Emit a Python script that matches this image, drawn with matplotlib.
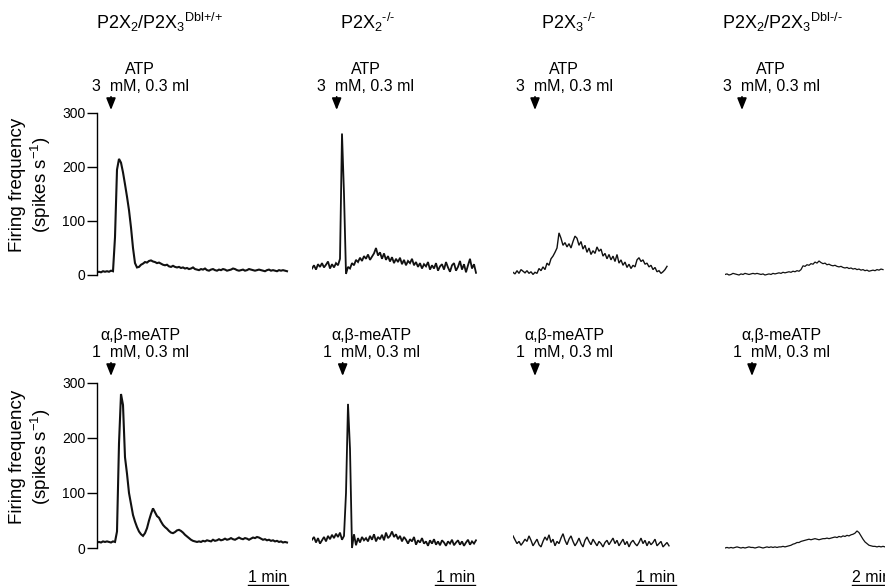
import numpy as np
import matplotlib.pyplot as plt
import matplotlib.transforms as mtransforms

plt.rcParams['font.family'] = ['Liberation Sans', 'DejaVu Sans']
plt.rcParams['mathtext.fontset'] = 'custom'
plt.rcParams['mathtext.rm'] = 'Liberation Sans'
plt.rcParams['mathtext.it'] = 'Liberation Sans:italic'
plt.rcParams['mathtext.sf'] = 'Liberation Sans'

# ---- data (firing frequency, spikes/s), sampled every STEP seconds ----
titles = [r'P2X$_2$/P2X$_3$$^{\text{Dbl+/+}}$', r'P2X$_2$$^{\text{-/-}}$',
          r'P2X$_3$$^{\text{-/-}}$', r'P2X$_2$/P2X$_3$$^{\text{Dbl-/-}}$']
steps = [3, 3, 3, 6]

atp_wt = [5, 6, 5, 7, 6, 7, 6, 8, 7, 70, 195, 215, 208, 190, 168, 145, 120, 88, 50, 22,
          14, 15, 19, 21, 24, 23, 26, 27, 25, 24, 22, 23, 21, 19, 18, 19, 16, 15, 17, 15,
          14, 15, 13, 14, 12, 13, 11, 12, 14, 11, 10, 9, 11, 10, 12, 9, 8, 10, 11, 9,
          8, 10, 9, 11, 10, 8, 9, 10, 12, 11, 9, 8, 9, 10, 8, 9, 11, 10, 9, 8,
          9, 10, 9, 8, 7, 9, 10, 8, 9, 8, 7, 9, 8, 9, 8, 7]
atp_p2x2 = [12, 18, 10, 20, 15, 22, 14, 19, 25, 12, 20, 14, 22, 18, 30, 262, 150, 2, 15, 12,
            22, 18, 28, 24, 32, 26, 35, 30, 38, 28, 34, 40, 50, 36, 42, 30, 40, 28, 35, 25,
            33, 22, 30, 24, 32, 20, 28, 18, 26, 22, 30, 18, 24, 15, 22, 12, 20, 16, 24, 10,
            18, 12, 22, 8, 16, 20, 10, 24, 14, 6, 18, 22, 8, 15, 26, 10, 20, 5, 18, 30,
            12, 20, 4]
atp_p2x3 = [5, 2, 8, 3, 10, 7, 4, 8, 3, 6, 1, 5, 3, 12, 8, 15, 10, 22, 18, 30,
            35, 42, 50, 78, 68, 55, 60, 52, 58, 50, 62, 72, 68, 55, 62, 48, 55, 42, 50, 38,
            45, 40, 52, 44, 48, 35, 40, 30, 38, 28, 35, 25, 38, 22, 28, 18, 24, 14, 20, 12,
            18, 15, 28, 32, 25, 28, 20, 22, 15, 18, 10, 14, 6, 8, 3, 6, 10, 16]
atp_dko = [1, 2, 0, 1, 3, 2, 1, 0, 2, 1, 3, 2, 1, 2, 3, 2,
           3, 2, 1, 2, 0, 1, 2, 1, 3, 2, 3, 4, 3, 5, 4, 5,
           6, 5, 7, 6, 8, 7,
           10, 17, 16, 19, 18, 21, 20, 24, 22, 26,
           23, 21, 22, 19, 20, 18, 17, 18, 16, 15,
           16, 14, 13, 14, 12, 13, 11, 12, 10, 11, 9, 10, 8, 9, 7, 8, 9, 8, 10, 9, 11, 10]

ab_wt = [10, 11, 10, 12, 11, 12, 11, 10, 12, 11, 30, 190, 280, 260, 165, 135, 100, 80, 60, 48,
         38, 30, 25, 22, 27, 36, 50, 62, 72, 65, 58, 55, 48, 42, 38, 35, 31, 28, 27, 29,
         32, 33, 31, 28, 24, 21, 18, 15, 13, 12, 11, 12, 11, 13, 12, 14, 13, 12, 15, 13,
         14, 16, 14, 15, 17, 15, 16, 18, 16, 15, 17, 19, 17, 16, 18, 17, 15, 17, 19, 18,
         20, 19, 17, 15, 16, 14, 15, 13, 14, 12, 13, 11, 12, 10, 11, 10]
ab_p2x2 = [15, 20, 10, 18, 8, 14, 20, 12, 22, 16, 24, 18, 26, 20, 28, 15, 22, 100, 262, 180,
           0, 25, 5, 18, 10, 20, 14, 18, 12, 22, 15, 25, 12, 20, 16, 24, 14, 28, 18, 22,
           30, 20, 25, 16, 22, 12, 20, 15, 8, 16, 12, 20, 6, 14, 10, 18, 8, 12, 4, 14,
           8, 16, 6, 12, 5, 14, 10, 4, 12, 8, 15, 5, 10, 14, 6, 12, 4, 10, 15, 6,
           12, 8, 14]
ab_p2x3 = [22, 15, 8, 12, 5, 10, 16, 12, 22, 14, 4, 10, 16, 6, 2, 12, 20, 14, 24, 10,
           16, 4, 12, 8, 18, 26, 14, 6, 16, 22, 12, 4, 10, 18, 8, 2, 14, 20, 12, 6,
           16, 10, 4, 12, 8, 2, 10, 14, 6, 12, 18, 8, 14, 4, 10, 16, 6, 12, 2, 10,
           14, 8, 4, 10, 18, 8, 14, 4, 12, 6, 10, 16, 4, 8, 12, 2, 6, 10, 4]
ab_dko = [0, 1, 0, 1, 0, 1, 2, 1, 0, 1, 0, 1, 2, 1, 1, 0, 1, 2, 1, 0, 1, 2, 1, 2, 1, 2, 1, 2, 2, 3, 2,
          3, 4, 5, 7, 8, 10, 10,
          12, 13, 14, 15, 16, 15, 16, 17, 16, 15, 16, 17,
          17, 18, 17, 18, 19, 20, 19, 21, 20, 22, 21, 23, 22, 24, 25, 27,
          31, 28, 22, 16, 11, 8, 5, 4, 3, 3, 2, 3, 2, 3, 2]

traces = [[atp_wt, atp_p2x2, atp_p2x3, atp_dko],
          [ab_wt, ab_p2x2, ab_p2x3, ab_dko]]

drug_line1 = ['ATP', 'α,β-meATP']
drug_line2 = ['3  mM, 0.3 ml', '1  mM, 0.3 ml']
arrow_t = [[21, 37, 33, 51], [21, 46, 33, 81]]   # injection time (s)

scale_start = [226, 185, 184, 381]
scale_len = [60, 60, 60, 120]
scale_text = ['1 min', '1 min', '1 min', '2 min']

# ---- layout (pixels) ----
W, H = 885, 586
fig = plt.figure(figsize=(W / 100, H / 100), dpi=100)

col_left = [97, 312, 513, 725]
col_tmax = [288, 248, 236, 480]
col_pxs = [2 / 3, 2 / 3, 2 / 3, 1 / 3]
row_zero = [275, 548]
row_scale = [0.54, 0.55]
YMIN, YMAX = -20, 310
title_x = [160, 368, 569, 782]
lws = [1.5, 1.3, 1.0, 0.9]

for r in range(2):
    for c in range(4):
        width = col_tmax[c] * col_pxs[c]
        top = row_zero[r] - YMAX * row_scale[r]
        height = (YMAX - YMIN) * row_scale[r]
        ax = fig.add_axes([col_left[c] / W, 1 - (top + height) / H, width / W, height / H])
        ax.patch.set_visible(False)
        vals = np.array(traces[r][c])
        t = np.arange(len(vals)) * steps[c]
        ax.plot(t, vals, color='#111111', lw=lws[c], solid_joinstyle='miter')
        ax.set_xlim(0, col_tmax[c])
        ax.set_ylim(YMIN, YMAX)
        for s in ['top', 'right', 'bottom']:
            ax.spines[s].set_visible(False)
        ax.set_xticks([])
        if c == 0:
            ax.spines['left'].set_bounds(0, 300)
            ax.spines['left'].set_linewidth(1.0)
            ax.set_yticks([0, 100, 200, 300])
            ax.tick_params(axis='y', length=7, width=1.0, pad=1.5, labelsize=10)
            ax.set_ylabel('Firing frequency\n(spikes s$^{-1}$)', fontsize=13.5, linespacing=1.15)
            ax.yaxis.set_label_coords(-0.23, 0.565)
        else:
            ax.spines['left'].set_visible(False)
            ax.set_yticks([])

        # injection arrow and label
        tip = (row_zero[r] + (0 - YMIN) * row_scale[r] - (110 if r == 0 else 376)) / height
        ta = arrow_t[r][c]
        ax.annotate('', xy=(ta, tip), xycoords=('data', 'axes fraction'),
                    xytext=(0, 9.5), textcoords='offset points',
                    arrowprops=dict(arrowstyle='-|>,head_length=0.7,head_width=0.28',
                                    color='k', lw=1.2, mutation_scale=10,
                                    shrinkA=0, shrinkB=0))
        ax.annotate(drug_line1[r], xy=(ta, tip), xycoords=('data', 'axes fraction'),
                    xytext=(21, 29), textcoords='offset points',
                    ha='center', va='center', fontsize=11.5, annotation_clip=False)
        ax.annotate(drug_line2[r], xy=(ta, tip), xycoords=('data', 'axes fraction'),
                    xytext=(21, 17), textcoords='offset points',
                    ha='center', va='center', fontsize=11.5, annotation_clip=False)

        if r == 1:
            tr = mtransforms.blended_transform_factory(ax.transData, ax.transAxes)
            yb = (row_zero[r] + (0 - YMIN) * row_scale[r] - 585) / height
            yt = (row_zero[r] + (0 - YMIN) * row_scale[r] - 582.5) / height
            s0, L = scale_start[c], scale_len[c]
            ax.plot([s0, s0 + L], [yb, yb], color='k', lw=1.0, transform=tr, clip_on=False)
            ax.text(s0 + L / 2, yt, scale_text[c], transform=tr, ha='center', va='baseline',
                    fontsize=11.5, clip_on=False)

for c in range(4):
    fig.text(title_x[c] / W, 1 - 22 / H, titles[c], ha='center', va='center', fontsize=13)

fig.savefig('out.png', dpi=100)
